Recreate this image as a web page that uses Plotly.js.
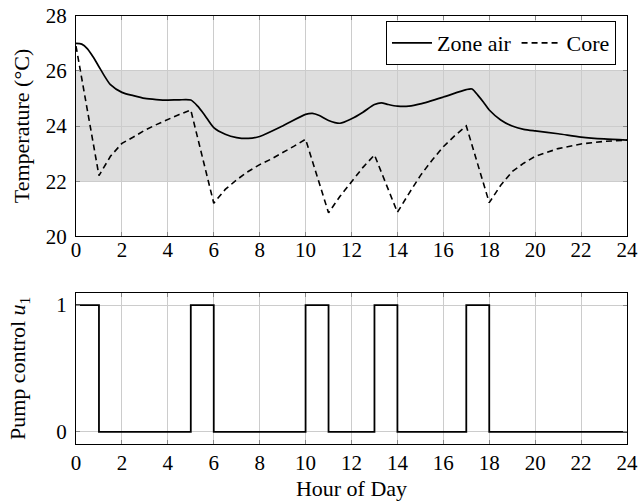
<!DOCTYPE html>
<html>
<head>
<meta charset="utf-8">
<script src="https://cdn.plot.ly/plotly-3.0.1.min.js"></script>
<style>html,body{margin:0;padding:0;background:#fff}#chart{width:638px;height:502px}</style>
</head>
<body>
<div id="chart"></div>
<script>
// Zone air temperature (°C)
const zoneHours = [0,0.25,0.5,0.75,1,1.25,1.5,2,2.5,3,3.5,4,4.5,5,5.3,5.6,6,6.5,7,7.5,8,9,10,10.3,10.6,11,11.5,12,12.5,13,13.3,13.6,14,14.5,15,16,17,17.25,17.5,17.75,18,18.5,19,19.5,20,21,22,23,24];
const zoneAir   = [27.0,26.97,26.8,26.5,26.15,25.8,25.5,25.22,25.1,25.0,24.96,24.94,24.95,24.94,24.72,24.4,23.94,23.7,23.58,23.55,23.62,24.0,24.42,24.46,24.38,24.2,24.1,24.26,24.5,24.78,24.84,24.78,24.72,24.72,24.8,25.05,25.32,25.34,25.12,24.86,24.58,24.22,24.0,23.88,23.82,23.72,23.6,23.53,23.49];
// Core temperature (°C)
const coreHours = [0,1,1.5,2,2.5,3,3.5,4,4.5,5,6,6.5,7,7.5,8,8.5,9,9.5,10,11,11.5,12,12.5,13,14,14.5,15,15.5,16,16.5,17,18,18.5,19,19.5,20,20.5,21,22,23,24];
const coreTemp  = [26.9,22.2,22.9,23.37,23.6,23.85,24.05,24.25,24.42,24.58,21.2,21.7,22.05,22.35,22.6,22.8,23.02,23.27,23.52,20.85,21.45,21.98,22.5,22.95,20.87,21.55,22.2,22.75,23.25,23.65,24.0,21.22,21.85,22.35,22.65,22.9,23.05,23.18,23.35,23.44,23.49];
// Pump control u1
const pumpHours = [0,1,5,6,10,11,13,14,17,18,24];
const pumpCtrl  = [1,0,1,0,1,0,1,0,1,0,0];
// Comfort band (°C)
const bandLow = 22, bandHigh = 26;
const hourTicks = [0,2,4,6,8,10,12,14,16,18,20,22,24];

const serif = 'Liberation Serif';
const traces = [
  {x: zoneHours, y: zoneAir, mode: 'lines', name: 'Zone air', line: {color: '#000', width: 1.7, shape: 'spline', smoothing: 0.7}, xaxis: 'x', yaxis: 'y'},
  {x: coreHours, y: coreTemp, mode: 'lines', name: 'Core', line: {color: '#000', width: 1.6, dash: '6px,4px'}, xaxis: 'x', yaxis: 'y'},
  {x: pumpHours, y: pumpCtrl, mode: 'lines', name: 'Pump', showlegend: false, line: {color: '#000', width: 1.8, shape: 'hv'}, xaxis: 'x2', yaxis: 'y2'}
];
function ax(extra) {
  return Object.assign({
    showline: true, linecolor: '#000', linewidth: 1, mirror: 'allticks',
    ticks: 'inside', ticklen: 4, tickcolor: '#888', tickwidth: 1,
    showgrid: true, gridcolor: '#cccccc', gridwidth: 1, zeroline: false,
    tickfont: {family: serif, size: 21, color: '#000'}
  }, extra);
}
const titleFont = {family: serif, size: 22, color: '#000'};
const layout = {
  width: 638, height: 502,
  font: {family: serif, size: 21, color: '#000'},
  margin: {l: 76, r: 11, t: 0, b: 0},
  paper_bgcolor: '#fff', plot_bgcolor: '#fff',
  showlegend: true,
  legend: {orientation: 'h', x: 0.98, xanchor: 'right', y: 0.958, yanchor: 'top',
           bordercolor: '#000', borderwidth: 1, bgcolor: '#fff',
           font: {family: serif, size: 22, color: '#000'}, itemwidth: 40, tracegroupgap: 0},
  xaxis: ax({domain: [0, 1], range: [0, 24], tickvals: hourTicks, anchor: 'y', ticklabelstandoff: -5}),
  yaxis: ax({domain: [0.5293, 0.9687], range: [20, 28], tickvals: [20,22,24,26,28], anchor: 'x', ticklabelstandoff: 4,
           title: {text: 'Temperature (°C)', font: titleFont, standoff: 10}}),
  xaxis2: ax({domain: [0, 1], range: [0, 24], tickvals: hourTicks, anchor: 'y2', ticklabelstandoff: 0,
           title: {text: 'Hour of Day', font: titleFont, standoff: 6}}),
  yaxis2: ax({domain: [0.1155, 0.4169], range: [-0.095, 1.097], tickvals: [0, 1], anchor: 'x2', ticklabelstandoff: 4,
           title: {text: 'Pump control <i>u</i><sub>1</sub>', font: titleFont, standoff: 24}}),
  shapes: [{type: 'rect', xref: 'x', yref: 'y', x0: hourTicks[0], x1: hourTicks[hourTicks.length-1], y0: bandLow, y1: bandHigh,
            fillcolor: '#dedede', line: {width: 0}, layer: 'below'}]
};
Plotly.newPlot('chart', traces, layout, {displayModeBar: false, staticPlot: true});
</script>
</body>
</html>
